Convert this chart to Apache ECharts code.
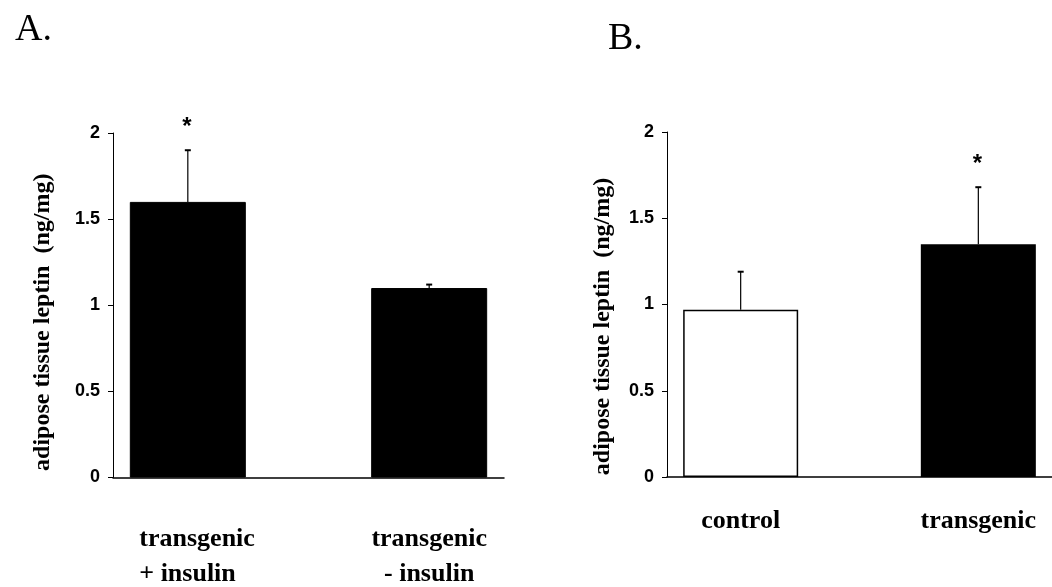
<!DOCTYPE html>
<html>
<head>
<meta charset="utf-8">
<script src="https://cdn.jsdelivr.net/npm/echarts@6/dist/echarts.min.js"></script>
<style>
html,body{margin:0;padding:0;background:#fff;}
#chart{width:1052px;height:587px;}
</style>
</head>
<body>
<div id="chart"></div>
<script>
// ---- data ----
const categoriesA = ['transgenic\n+ insulin', 'transgenic\n- insulin'];
const valuesA = [1.6, 1.1];
const errorsA = [0.30, 0.02];
const significanceA = ['*', ''];
const colorsA = ['#000000', '#000000'];

const categoriesB = ['control', 'transgenic'];
const valuesB = [0.97, 1.35];
const errorsB = [0.22, 0.33];
const significanceB = ['', '*'];
const colorsB = ['#ffffff', '#000000'];

const yTickLabels = ['0', '0.5', '1', '1.5', '2'];
const yAxisTitle = 'adipose tissue leptin  (ng/mg)';
const panelLabels = ['A.', 'B.'];

// ---- helpers ----
const serif = "'Liberation Serif', 'Times New Roman', serif";
const sans = "'Liberation Sans', Arial, sans-serif";

function barData(vals, colors) {
  return vals.map((v, i) => ({ value: [i, v], itemStyle: { color: colors[i] } }));
}
function errData(vals, errs) {
  return vals.map((v, i) => [i, v, v + errs[i]]);
}
function errRenderer(sig) {
  return function (params, api) {
    const x = api.value(0), base = api.value(1), top = api.value(2);
    const p0 = api.coord([x, base]);
    const p1 = api.coord([x, top]);
    const children = [
      { type: 'line', shape: { x1: p0[0], y1: p0[1], x2: p1[0], y2: p1[1] },
        style: { stroke: '#000', lineWidth: 1.2 } },
      { type: 'line', shape: { x1: p1[0] - 3, y1: p1[1], x2: p1[0] + 3, y2: p1[1] },
        style: { stroke: '#000', lineWidth: 2 } }
    ];
    const s = sig[params.dataIndex];
    if (s) {
      children.push({ type: 'text', x: p1[0] - 1, y: p1[1] - 23,
        style: { text: s, fill: '#000', font: "bold 24px " + sans, align: 'center', verticalAlign: 'middle' } });
    }
    return { type: 'group', children: children };
  };
}
function yAxisCfg(gridIndex, nameGap, shift) {
  return {
    type: 'value', gridIndex: gridIndex, min: 0, max: 2, interval: 0.5,
    name: yAxisTitle, nameLocation: 'middle', nameGap: nameGap, nameRotate: 90,
    nameTextStyle: { fontFamily: serif, fontWeight: 'bold', fontSize: 24, color: '#000',
      padding: [0, shift, 0, 0] },
    axisLine: { show: true, onZero: false, lineStyle: { color: '#000', width: 1 } },
    axisTick: { show: true, inside: false, length: 5, lineStyle: { color: '#000' } },
    splitLine: { show: false },
    axisLabel: { margin: 13, color: '#000', fontFamily: sans, fontWeight: 'bold', fontSize: 18,
      formatter: function (v) { return yTickLabels[Math.round(v / 0.5)]; } }
  };
}
function xAxisCfg(gridIndex, cats, margin, richA) {
  return {
    type: 'value', gridIndex: gridIndex, min: -0.31, max: 1.31,
    axisLine: { show: true, onZero: false, lineStyle: { color: '#000', width: 1.5 } },
    axisTick: { show: false },
    splitLine: { show: false },
    axisLabel: {
      show: true, customValues: [0, 1], margin: margin,
      formatter: function (v) {
        const i = Math.round(v);
        const lines = cats[i].split('\n');
        return lines.map(l => '{' + (richA && i === 0 ? 'a' : 'c') + '|' + l + '}').join('\n');
      },
      rich: {
        a: { fontFamily: serif, fontWeight: 'bold', fontSize: 26, color: '#000', lineHeight: 35,
             width: 123, align: 'left', padding: [0, 0, 0, 26] },
        c: { fontFamily: serif, fontWeight: 'bold', fontSize: 26, color: '#000', lineHeight: 35,
             align: 'center' }
      }
    }
  };
}

const chart = echarts.init(document.getElementById('chart'), null, { renderer: 'canvas' });
chart.setOption({
  backgroundColor: '#ffffff',
  animation: false,
  title: [
    { text: panelLabels[0], left: 10, top: 6,
      textStyle: { fontFamily: serif, fontWeight: 'normal', fontSize: 38, color: '#000' } },
    { text: panelLabels[1], left: 603, top: 15,
      textStyle: { fontFamily: serif, fontWeight: 'normal', fontSize: 38, color: '#000' } }
  ],
  grid: [
    { left: 113, top: 133, width: 391, height: 346 },
    { left: 667, top: 132, width: 391, height: 345 }
  ],
  xAxis: [
    xAxisCfg(0, categoriesA, 44, true),
    xAxisCfg(1, categoriesB, 27, false)
  ],
  yAxis: [
    yAxisCfg(0, 58, 34),
    yAxisCfg(1, 52, 44)
  ],
  series: [
    { type: 'bar', xAxisIndex: 0, yAxisIndex: 0, barWidth: 116,
      itemStyle: { borderColor: '#000', borderWidth: 1 },
      data: barData(valuesA, colorsA) },
    { type: 'custom', xAxisIndex: 0, yAxisIndex: 0, z: 5,
      renderItem: errRenderer(significanceA), data: errData(valuesA, errorsA) },
    { type: 'bar', xAxisIndex: 1, yAxisIndex: 1, barWidth: 115,
      itemStyle: { borderColor: '#000', borderWidth: 1.5 },
      data: barData(valuesB, colorsB) },
    { type: 'custom', xAxisIndex: 1, yAxisIndex: 1, z: 5,
      renderItem: errRenderer(significanceB), data: errData(valuesB, errorsB) }
  ]
});
</script>
</body>
</html>
